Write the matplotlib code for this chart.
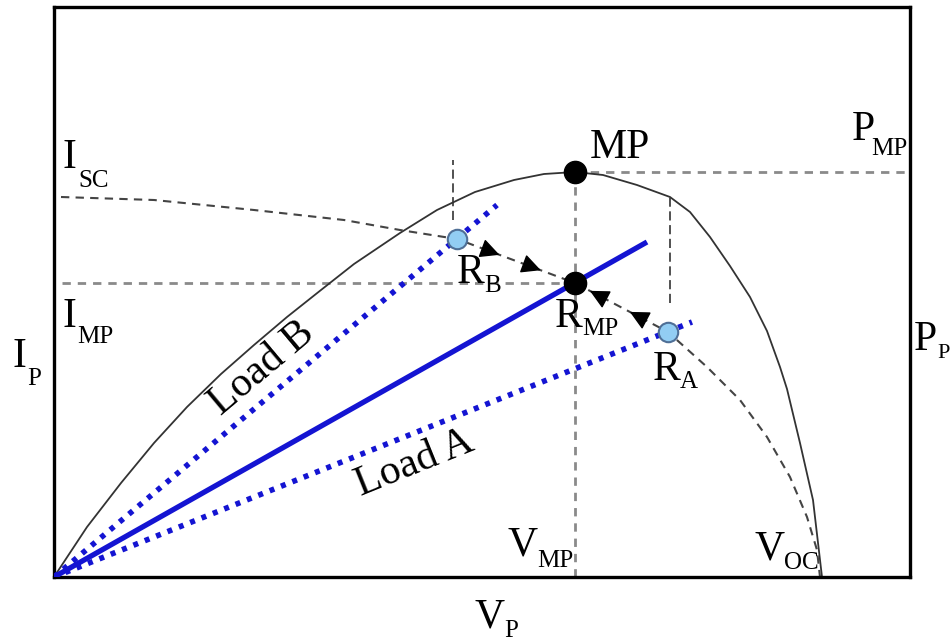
import matplotlib.pyplot as plt
import matplotlib.transforms as mtransforms
import numpy as np

plt.rcParams['font.family'] = ['Liberation Serif', 'DejaVu Serif']

# P-V curve of the panel (solid)
pv_v = np.array([0, 33, 67, 100, 133, 167, 200, 233, 267, 300, 346, 383, 421, 460, 490,
                 521, 549, 583, 616, 636, 656, 676, 696, 713, 726, 733, 746, 759, 768])
pv_p = np.array([0, 50, 94, 134, 170, 203, 232, 260, 287, 313, 344, 367, 385, 397, 403,
                 405, 402, 392, 380, 365, 340, 311, 280, 246, 210, 188, 134, 77, 0])

# I-V curve (dashed)
iv_v = np.array([7, 100, 200, 290, 346, 403, 521, 614, 653, 686, 713, 736, 753, 763, 766])
iv_i = np.array([380, 377, 367, 357, 347, 338, 294, 245, 210, 177, 140, 100, 60, 27, 0])

# operating points
mp = (521, 405)
r_mp = (521, 294)
r_b = (403, 338)
r_a = (614, 245)

# load lines from the origin
load_b_v, load_b_i = [0, 443], [0, 372]
load_mp_v, load_mp_i = [0, 593], [0, 335]
load_a_v, load_a_i = [0, 638], [0, 255]

# arrow tips along the I-V curve, as fractions of each segment
arrow_frac_b = [0.36, 0.71]
arrow_frac_a = [0.41, 0.84]

blue = '#1414d2'
fig = plt.figure(figsize=(9.5, 6.44), dpi=100)
ax = fig.add_axes([54 / 950, 67 / 644, 856 / 950, 570 / 644])
ax.set_xlim(0, 856)
ax.set_ylim(0, 570)
ax.set_xticks([])
ax.set_yticks([])
for s in ax.spines.values():
    s.set_linewidth(2.4)

# guide lines
guide = dict(color='#8a8a8a', lw=2.0, ls=(0, (3, 2.5)), zorder=1)
ax.plot([8, r_mp[0]], [r_mp[1], r_mp[1]], **guide)
ax.plot([mp[0], mp[0]], [0, mp[1]], **guide)
ax.plot([mp[0], 852], [mp[1], mp[1]], **guide)
ax.plot([399, 399], [357, 417], color='#222222', lw=1.1, ls=(0, (6, 3)), zorder=1)
ax.plot([616, 616], [274, 384], color='#222222', lw=1.1, ls=(0, (6, 3)), zorder=1)

# curves
ax.plot(pv_v, pv_p, color='#333333', lw=1.3, zorder=2)
ax.plot(iv_v, iv_i, color='#444444', lw=1.5, ls=(0, (4, 3)), zorder=2)

# load lines
ax.plot(load_b_v, load_b_i, color=blue, lw=4, ls=(0, (0.9, 1.3)), zorder=3)
ax.plot(load_a_v, load_a_i, color=blue, lw=4, ls=(0, (0.9, 1.3)), zorder=3)
ax.plot(load_mp_v, load_mp_i, color=blue, lw=3.8, solid_capstyle='butt', zorder=3)

# arrows converging on R_MP
for start, fracs in [(r_b, arrow_frac_b), (r_a, arrow_frac_a)]:
    d = np.array(r_mp) - np.array(start)
    u = d / np.hypot(*d)
    for f in fracs:
        tip = np.array(start) + f * d
        ax.annotate('', xy=tip, xytext=tip - 16 * u,
                    arrowprops=dict(arrowstyle='-|>', color='black', lw=1,
                                    mutation_scale=30, shrinkA=0, shrinkB=0),
                    zorder=4)

# markers
ax.plot(*mp, 'o', color='black', ms=16, zorder=5)
ax.plot(*r_mp, 'o', color='black', ms=16, zorder=5)
for p in (r_b, r_a):
    ax.plot(*p, 'o', mfc='#92cdf3', mec='#4f6f96', mew=1.5, ms=14, zorder=5)

# labels: main letter plus a low, small subscript
renderer = fig.canvas.get_renderer()


def label(x, y, main, sub='', drop=10, dx=0, subsize=18):
    t = ax.text(x, y, main, fontsize=30, ha='left', va='baseline', clip_on=False)
    if sub:
        w = t.get_window_extent(renderer).width
        tr = mtransforms.offset_copy(ax.transData, fig=fig, x=w + dx, y=-drop,
                                     units='dots')
        ax.text(x, y, sub, fontsize=subsize, ha='left', va='baseline',
                transform=tr, clip_on=False)


label(9, 409, 'I', 'SC', drop=19, dx=1)
label(8, 250, 'I', 'MP', drop=16, dx=1)
label(-42, 210, 'I', 'P', drop=18, dx=1)
label(536, 419, 'MP')
label(798, 437, 'P', 'MP', drop=15, dx=-4)
label(860, 227, 'P', 'P', drop=8, dx=0, subsize=16)
label(403, 294, 'R', 'B', drop=9, dx=-1)
label(501, 250, 'R', 'MP', drop=8, dx=-1)
label(599, 197, 'R', 'A', drop=8, dx=-1)
label(454, 22, 'V', 'MP', drop=12, dx=-1)
label(701, 18, 'V', 'OC', drop=10, dx=-1)
label(421, -51, 'V', 'P', drop=9, dx=-1)

ax.text(208, 209, 'Load B', fontsize=30, rotation=40, rotation_mode='anchor',
        ha='center', va='center')
ax.text(361, 114, 'Load A', fontsize=30, rotation=22, rotation_mode='anchor',
        ha='center', va='center')

fig.savefig('out.png', dpi=100)
